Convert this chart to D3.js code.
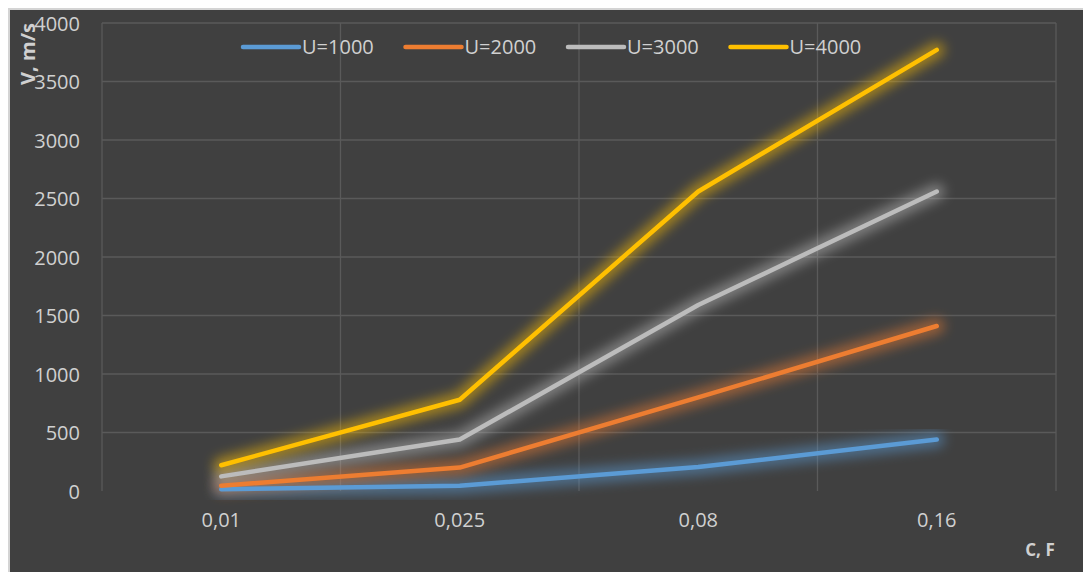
<!DOCTYPE html>
<html>
<head>
<meta charset="utf-8">
<script src="https://cdn.jsdelivr.net/npm/d3@7"></script>
<style>
  body { margin: 0; background: #fff; }
  text { font-family: "Open Sans", "Noto Sans", sans-serif; }
</style>
</head>
<body>
<script>
var width = 1083,
    height = 572;

// data
var categories = ['0,01', '0,025', '0,08', '0,16'];
var seriesNames = ['U=1000', 'U=2000', 'U=3000', 'U=4000'];
var u1000 = [15, 45, 205, 440];
var u2000 = [45, 200, 800, 1410];
var u3000 = [125, 440, 1590, 2560];
var u4000 = [220, 780, 2560, 3770];
var yTicks = [0, 500, 1000, 1500, 2000, 2500, 3000, 3500, 4000];
var colors = ['#5b9bd5', '#ed7d31', '#bcbcbc', '#ffc000'];

var series = [u1000, u2000, u3000, u4000];

var svg = d3.select('body')
  .append('svg')
  .attr('width', width)
  .attr('height', height);

// outer frame
svg.append('rect')
  .attr('x', 0).attr('y', 0)
  .attr('width', width).attr('height', height)
  .attr('fill', '#ffffff');
svg.append('rect')
  .attr('x', 8).attr('y', 8)
  .attr('width', width - 8).attr('height', height - 8)
  .attr('fill', '#d4d4d4');
svg.append('rect')
  .attr('x', 10).attr('y', 10)
  .attr('width', width - 10).attr('height', height - 10)
  .attr('fill', '#404040');

var defs = svg.append('defs');
colors.forEach(function(c, i) {
  var f = defs.append('filter')
    .attr('id', 'glow' + i)
    .attr('x', '-20%').attr('y', '-20%')
    .attr('width', '140%').attr('height', '140%');
  f.append('feGaussianBlur')
    .attr('in', 'SourceGraphic')
    .attr('stdDeviation', 6)
    .attr('result', 'blur');
  f.append('feComponentTransfer')
    .attr('in', 'blur')
    .append('feFuncA')
    .attr('type', 'linear')
    .attr('slope', 0.5);
});

var x = d3.scaleBand()
  .domain(categories)
  .range([102, 1056])
  .padding(0);

var y = d3.scaleLinear()
  .domain([0, 4000])
  .range([491, 23]);

// gridlines
var grid = svg.append('g').attr('id', 'grid');
grid.selectAll('line.h')
  .data(yTicks.filter(function(d) { return d > 0; }))
  .enter()
  .append('line')
  .attr('class', 'h')
  .attr('x1', 102).attr('x2', 1056)
  .attr('y1', function(d) { return y(d); })
  .attr('y2', function(d) { return y(d); })
  .attr('stroke', '#5a5a5a')
  .attr('stroke-width', 1.3);

var bounds = categories.map(function(c) { return x(c); }).concat([x.range()[1]]);
grid.selectAll('line.v')
  .data(bounds)
  .enter()
  .append('line')
  .attr('class', 'v')
  .attr('x1', function(d) { return d; })
  .attr('x2', function(d) { return d; })
  .attr('y1', 23).attr('y2', 491)
  .attr('stroke', '#5a5a5a')
  .attr('stroke-width', 1.3);

// y axis labels
var yAxis = svg.append('g')
  .attr('transform', 'translate(80,0)')
  .call(d3.axisLeft(y).tickValues(yTicks).tickFormat(d3.format('d')).tickSize(0).tickPadding(0));
yAxis.select('.domain').remove();
yAxis.selectAll('text')
  .attr('fill', '#d0d0d0')
  .style('font-size', '20px')
  .attr('dy', '0.35em');

// x axis labels
var xAxis = svg.append('g')
  .attr('transform', 'translate(0,510)')
  .call(d3.axisBottom(x).tickSize(0).tickPadding(0));
xAxis.select('.domain').remove();
xAxis.selectAll('text')
  .attr('fill', '#d0d0d0')
  .style('font-size', '20px')
  .attr('dy', '0.85em');

var line = d3.line()
  .x(function(d, i) { return x(categories[i]) + x.bandwidth() / 2; })
  .y(function(d) { return y(d); });

var lines = svg.append('g').attr('id', 'lines');
series.forEach(function(s, i) {
  lines.append('path')
    .datum(s)
    .attr('d', line)
    .attr('fill', 'none')
    .attr('stroke', colors[i])
    .attr('stroke-width', 16)
    .attr('stroke-linecap', 'round')
    .attr('stroke-linejoin', 'round')
    .attr('filter', 'url(#glow' + i + ')');
});
series.forEach(function(s, i) {
  lines.append('path')
    .datum(s)
    .attr('d', line)
    .attr('fill', 'none')
    .attr('stroke', colors[i])
    .attr('stroke-width', 4.5)
    .attr('stroke-linecap', 'round')
    .attr('stroke-linejoin', 'round');
});

// legend
var legend = svg.append('g').attr('id', 'legend');
var leg = legend.selectAll('g')
  .data(seriesNames)
  .enter()
  .append('g')
  .attr('transform', function(d, i) { return 'translate(' + (243 + i * 162.5) + ',47)'; });
leg.append('line')
  .attr('x1', 0).attr('x2', 56)
  .attr('y1', 0).attr('y2', 0)
  .attr('stroke', function(d, i) { return colors[i]; })
  .attr('stroke-width', 4.5)
  .attr('stroke-linecap', 'round');
leg.append('text')
  .attr('x', 59)
  .attr('y', 0)
  .attr('dy', '0.35em')
  .attr('fill', '#d0d0d0')
  .style('font-size', '20px')
  .text(function(d) { return d; });

// axis titles
svg.append('text')
  .attr('transform', 'translate(28,54) rotate(-90)')
  .attr('text-anchor', 'middle')
  .attr('dy', '0.35em')
  .attr('fill', '#d0d0d0')
  .style('font-size', '20px')
  .style('font-weight', 'bold')
  .text('V, m/s');

svg.append('text')
  .attr('x', 1040)
  .attr('y', 550)
  .attr('text-anchor', 'middle')
  .attr('dy', '0.35em')
  .attr('fill', '#d0d0d0')
  .style('font-size', '17px')
  .style('font-weight', 'bold')
  .text('C, F');
</script>
</body>
</html>
